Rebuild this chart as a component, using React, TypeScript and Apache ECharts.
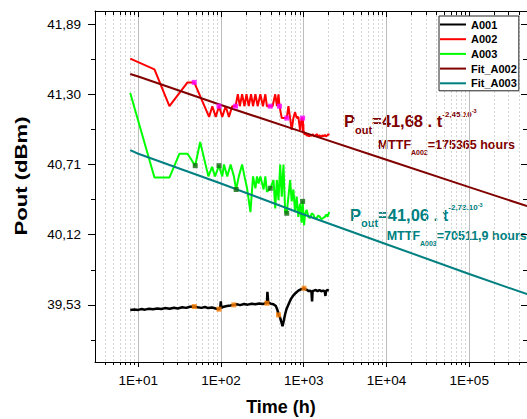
import React, { useEffect, useRef } from 'react';
import * as echarts from 'echarts';

const FONT = 'Arial, "Liberation Sans", Helvetica, sans-serif';

// Axis ticks
const xDecades = [10, 100, 1000, 10000, 100000];
const xMinor = [
  4, 5, 6, 7, 8, 9,
  20, 30, 40, 50, 60, 70, 80, 90,
  200, 300, 400, 500, 600, 700, 800, 900,
  2000, 3000, 4000, 5000, 6000, 7000, 8000, 9000,
  20000, 30000, 40000, 50000, 60000, 70000, 80000, 90000,
  200000, 300000, 400000,
];
const yMajor = [39.53, 40.12, 40.71, 41.3, 41.89];
const yMinor = [39.235, 39.825, 40.415, 41.005, 41.595];

// Series (time h, Pout dBm)
const a001: [number, number][] = [
  [8, 39.487], [9, 39.492], [10, 39.488], [11, 39.495], [12, 39.49], [13.5, 39.497], [15, 39.493],
  [17, 39.5], [19, 39.495], [21, 39.503], [24, 39.498], [27, 39.506], [30, 39.5], [34, 39.51],
  [38, 39.505], [42, 39.514], [47.5, 39.516], [52, 39.51], [58, 39.505], [64, 39.512], [70, 39.503],
  [78, 39.508], [86, 39.5], [94.6, 39.494], [98, 39.51], [99.5, 39.56], [101, 39.505], [108, 39.515],
  [118, 39.52], [130, 39.525], [143, 39.53], [155, 39.535], [170, 39.528], [190, 39.538], [210, 39.532],
  [235, 39.54], [260, 39.535], [290, 39.542], [320, 39.537], [345, 39.545], [359, 39.544], [364, 39.64],
  [368, 39.6], [372, 39.55], [400, 39.54], [430, 39.535], [460, 39.52], [480, 39.49], [496, 39.446],
  [515, 39.43], [535, 39.39], [554, 39.35], [575, 39.4], [600, 39.46], [623, 39.5], [660, 39.54],
  [700, 39.58], [750, 39.61], [800, 39.63], [861, 39.65], [920, 39.66], [970, 39.665], [1008, 39.67],
  [1050, 39.66], [1100, 39.655], [1150, 39.645], [1200, 39.65], [1240, 39.64], [1262, 39.56],
  [1280, 39.645], [1330, 39.65], [1400, 39.655], [1470, 39.645], [1550, 39.655], [1630, 39.645],
  [1720, 39.65], [1800, 39.64], [1830, 39.605], [1860, 39.645], [1920, 39.655], [2010, 39.65],
];

const a002: [number, number][] = [
  [8, 41.6], [15.7, 41.51], [23.8, 41.2], [39.4, 41.4], [47.5, 41.4], [71.8, 41.11], [78.6, 41.2],
  [86.4, 41.11], [94.6, 41.2], [103.6, 41.11], [113.8, 41.2], [124.7, 41.11], [136.6, 41.2], [150, 41.2],
  [159.8, 41.3], [168.9, 41.2], [180, 41.3], [192.4, 41.2], [203.3, 41.3], [216.6, 41.2], [230.8, 41.3],
  [243.9, 41.2], [260.6, 41.3], [277.6, 41.2], [299.2, 41.3], [321.4, 41.2], [343.5, 41.3], [359.1, 41.2],
  [394.3, 41.2], [420, 41.2], [452.7, 41.3], [475, 41.2], [495.8, 41.3], [509.7, 41.2], [543, 41.1],
  [623.5, 41.1], [653.5, 41.2], [684.8, 41.1], [715.9, 41.0], [750, 41.1], [786.4, 41.15], [821.8, 41.1],
  [861, 41.11], [902.5, 41.0], [943.4, 41.1], [969.8, 41.1], [975, 40.98], [980, 41.08], [985, 40.99],
  [990, 41.05], [995, 40.97], [1000, 40.99], [1030, 40.96], [1060, 40.975], [1090, 40.95], [1120, 40.965],
  [1160, 40.945], [1200, 40.96], [1240, 40.95], [1290, 40.965], [1340, 40.945], [1390, 40.955],
  [1440, 40.965], [1500, 40.945], [1560, 40.955], [1620, 40.94], [1680, 40.955], [1740, 40.945],
  [1800, 40.96], [1860, 40.945], [1920, 40.955], [1980, 40.965], [2027, 40.955],
];

const a003: [number, number][] = [
  [8, 41.31], [15.7, 40.6], [23.8, 40.6], [31.4, 40.8], [39.4, 40.8], [48.8, 40.7], [56, 40.9],
  [70.4, 40.61], [78, 40.69], [84.7, 40.61], [94.6, 40.7], [103.6, 40.61], [108.6, 40.71], [119, 40.61],
  [130.7, 40.71], [143.2, 40.61], [152.5, 40.5], [164.3, 40.61], [180, 40.71], [192.4, 40.61],
  [206.7, 40.51], [227, 40.31], [243.9, 40.61], [260.6, 40.51], [272.4, 40.61], [285, 40.55],
  [299.2, 40.61], [327.7, 40.5], [343.5, 40.61], [359.1, 40.48], [394.3, 40.51], [431.9, 40.58],
  [452.7, 40.34], [473, 40.58], [495.8, 40.41], [519.6, 40.71], [543, 40.44], [569.2, 40.71],
  [596.6, 40.31], [623.5, 40.3], [653.5, 40.44], [684.8, 40.58], [715.9, 40.4], [750, 40.5],
  [786.4, 40.31], [821.8, 40.44], [861, 40.27], [902.5, 40.38], [943.4, 40.22], [969.8, 40.4],
  [988.8, 40.31], [1010, 40.2], [1036, 40.29], [1083, 40.33], [1140, 40.27], [1190, 40.26],
  [1250, 40.3], [1303, 40.29], [1360, 40.26], [1428, 40.26], [1500, 40.28], [1568, 40.27],
  [1640, 40.25], [1718, 40.26], [1800, 40.27], [1882, 40.29], [1950, 40.27], [2027, 40.31],
];

const fitA002: [number, number][] = [
  [8, 41.47], [10, 41.45], [100, 41.21], [1000, 40.98], [10000, 40.75], [100000, 40.52], [500000, 40.36],
];
const fitA003: [number, number][] = [
  [8, 40.83], [10, 40.8], [100, 40.55], [1000, 40.29], [10000, 40.04], [100000, 39.79], [500000, 39.62],
];

// Sample markers
const a001Marks: [number, number][] = [
  [47.5, 39.516], [94.6, 39.494], [143, 39.53], [359, 39.544], [496, 39.446], [1008, 39.67],
];
const a002Marks: [number, number][] = [
  [47.5, 41.4], [94.6, 41.2], [150, 41.2], [394.3, 41.2], [509.7, 41.2], [623.5, 41.1], [969.8, 41.1],
];
const a003Marks: [number, number][] = [
  [48.8, 40.7], [94.6, 40.7], [152.5, 40.5], [394.3, 40.51], [623.5, 40.3], [969.8, 40.4],
];

const X_MIN = 3;
const X_MAX = 500000;
const Y_MIN = 39.05;
const Y_MAX = 42.0;

const fmtX = (v: number) => {
  const e = Math.round(Math.log10(v));
  return '1E+' + String(e).padStart(2, '0');
};
const fmtY = (v: number) => v.toFixed(2).replace('.', ',');

export default function App() {
  const ref = useRef<HTMLDivElement>(null);

  useEffect(() => {
    if (!ref.current) return;
    const chart = echarts.init(ref.current, undefined, { renderer: 'svg' });

    const logAxisBase = { type: 'log' as const, logBase: 10, min: X_MIN, max: X_MAX, gridIndex: 0 };
    const valAxisBase = { type: 'value' as const, min: Y_MIN, max: Y_MAX, gridIndex: 0, scale: true };

    const lineSeries = (name: string, data: [number, number][], color: string, width: number, z: number) => ({
      name,
      type: 'line',
      data,
      xAxisIndex: 0,
      yAxisIndex: 0,
      symbol: 'none',
      lineStyle: { color, width },
      itemStyle: { color },
      z,
      silent: true,
    });
    const markSeries = (name: string, data: [number, number][], color: string) => ({
      name,
      type: 'scatter',
      data,
      xAxisIndex: 0,
      yAxisIndex: 0,
      symbol: 'rect',
      symbolSize: 5,
      itemStyle: { color },
      z: 5,
      silent: true,
    });

    const annot = (color: string, x: number, y: number, k: string, e: string, mx: number, my: number, id: string, mt: string) => [
      {
        type: 'text', x, y, silent: true,
        style: {
          x: 0, y: 0, align: 'left', verticalAlign: 'top', fill: color,
          text: `{m|P}{s|out}{m|=${k} . t}{p|${e}}{q|-3}`,
          rich: {
            m: { fontFamily: FONT, fontSize: 16.5, fontWeight: 'bold', lineHeight: 32, verticalAlign: 'middle', fill: color },
            s: { fontFamily: FONT, fontSize: 11, fontWeight: 'bold', lineHeight: 32, verticalAlign: 'middle', padding: [17.3, 0, 0, 0], fill: color },
            p: { fontFamily: FONT, fontSize: 8, fontWeight: 'bold', lineHeight: 32, verticalAlign: 'middle', padding: [0, 0, 13.2, 0], fill: color },
            q: { fontFamily: FONT, fontSize: 5.5, fontWeight: 'bold', lineHeight: 32, verticalAlign: 'middle', padding: [0, 0, 20, 0], fill: color },
          },
        },
      },
      {
        type: 'text', x: mx, y: my, silent: true,
        style: {
          x: 0, y: 0, align: 'left', verticalAlign: 'top', fill: color,
          text: `{m|MTTF}{s|${id}}{m|=${mt} hours}`,
          rich: {
            m: { fontFamily: FONT, fontSize: 12.5, fontWeight: 'bold', lineHeight: 26, verticalAlign: 'middle', fill: color },
            s: { fontFamily: FONT, fontSize: 7, fontWeight: 'bold', lineHeight: 26, verticalAlign: 'middle', padding: [15.8, 0, 0, 0], fill: color },
          },
        },
      },
    ];

    const option: any = {
      animation: false,
      backgroundColor: '#ffffff',
      grid: { left: 95, top: 11, right: -3.6, bottom: 57, containLabel: false },
      xAxis: [
        {
          ...logAxisBase,
          position: 'bottom',
          axisLine: { show: true, onZero: false, lineStyle: { color: '#000', width: 1 } },
          axisTick: { show: true, inside: false, length: 5, customValues: xDecades, lineStyle: { color: '#000' } },
          axisLabel: {
            show: true, customValues: xDecades, formatter: fmtX, margin: 11,
            fontSize: 13.5, color: '#000', fontFamily: FONT,
          },
          splitLine: { show: true, lineStyle: { color: '#bdbdbd', width: 1 } },
          minorTick: { show: false },
          minorSplitLine: { show: false },
        },
        {
          ...logAxisBase,
          position: 'bottom',
          axisLine: { show: false, onZero: false },
          axisTick: { show: true, inside: false, length: 3, customValues: xMinor, lineStyle: { color: '#000' } },
          axisLabel: { show: false },
          splitLine: { show: true, lineStyle: { color: '#d4d4d4', width: 1, type: [2, 2] } },
        },
        {
          ...logAxisBase,
          position: 'top',
          axisLine: { show: true, onZero: false, lineStyle: { color: '#000', width: 1 } },
          axisTick: { show: true, inside: true, length: 6, customValues: xDecades, lineStyle: { color: '#000' } },
          axisLabel: { show: false },
          splitLine: { show: false },
        },
        {
          ...logAxisBase,
          position: 'top',
          axisLine: { show: false, onZero: false },
          axisTick: { show: true, inside: true, length: 4, customValues: xMinor, lineStyle: { color: '#000' } },
          axisLabel: { show: false },
          splitLine: { show: false },
        },
      ],
      yAxis: [
        {
          ...valAxisBase,
          position: 'left',
          axisLine: { show: true, onZero: false, lineStyle: { color: '#000', width: 1 } },
          axisTick: { show: true, inside: false, length: 7, customValues: yMajor, lineStyle: { color: '#000' } },
          axisLabel: {
            show: true, customValues: yMajor, formatter: fmtY, margin: 14,
            fontSize: 13.5, color: '#000', fontFamily: FONT,
          },
          splitLine: { show: false },
        },
        {
          ...valAxisBase,
          position: 'left',
          axisLine: { show: false, onZero: false },
          axisTick: { show: true, inside: false, length: 4, customValues: yMinor, lineStyle: { color: '#000' } },
          axisLabel: { show: false },
          splitLine: { show: false },
        },
        {
          ...valAxisBase,
          position: 'right',
          axisLine: { show: true, onZero: false, lineStyle: { color: '#000', width: 1 } },
          axisTick: { show: true, inside: true, length: 6, customValues: yMajor, lineStyle: { color: '#000' } },
          axisLabel: { show: false },
          splitLine: { show: false },
        },
        {
          ...valAxisBase,
          position: 'right',
          axisLine: { show: false, onZero: false },
          axisTick: { show: true, inside: true, length: 4, customValues: yMinor, lineStyle: { color: '#000' } },
          axisLabel: { show: false },
          splitLine: { show: false },
        },
      ],
      legend: {
        data: [
          { name: 'A001', icon: 'rect' },
          { name: 'A002', icon: 'rect' },
          { name: 'A003', icon: 'rect' },
          { name: 'Fit_A002', icon: 'rect' },
          { name: 'Fit_A003', icon: 'rect' },
        ],
        orient: 'vertical',
        left: 439,
        top: 16,
        itemWidth: 26,
        itemHeight: 2,
        itemGap: 1.7,
        padding: [2, 2, 1, 1],
        backgroundColor: '#ffffff',
        borderColor: '#222',
        borderWidth: 1,
        borderRadius: 0,
        selectedMode: false,
        z: 10,
        textStyle: { fontFamily: FONT, fontSize: 11, fontWeight: 'bold', color: '#000', lineHeight: 13 },
      },
      series: [
        lineSeries('A001', a001, '#000000', 2.5, 2),
        lineSeries('A002', a002, '#ff0000', 2, 2),
        lineSeries('A003', a003, '#00ff00', 2, 2),
        markSeries('A001 samples', a001Marks, '#ff8000'),
        markSeries('A002 samples', a002Marks, '#ff00ff'),
        markSeries('A003 samples', a003Marks, '#0f6b0f'),
        lineSeries('Fit_A002', fitA002, '#800000', 2, 3),
        lineSeries('Fit_A003', fitA003, '#008080', 2, 3),
      ],
      graphic: [
        {
          type: 'text', x: 20.5, y: 176, rotation: Math.PI / 2, scaleX: 1.3, silent: true,
          style: { text: 'Pout (dBm)', x: 0, y: 0, align: 'center', verticalAlign: 'middle', font: `bold 17px ${FONT}`, fill: '#000' },
        },
        {
          type: 'text', x: 281, y: 407, silent: true,
          style: { text: 'Time (h)', x: 0, y: 0, align: 'center', verticalAlign: 'middle', font: `bold 18px ${FONT}`, fill: '#000' },
        },
        ...annot('#800000', 344, 105.1, '41,68', '-2,45.10', 377.7, 131.7, 'A002', '175365'),
        ...annot('#008080', 350, 198.5, '41,06', '-2,73.10', 386.7, 222.7, 'A003', '70511,9'),
      ],
    };

    chart.setOption(option);
    return () => chart.dispose();
  }, []);

  return (
    <div
      ref={ref}
      style={{ position: 'fixed', left: 0, top: 0, width: 527, height: 419, background: '#fff' }}
    />
  );
}
